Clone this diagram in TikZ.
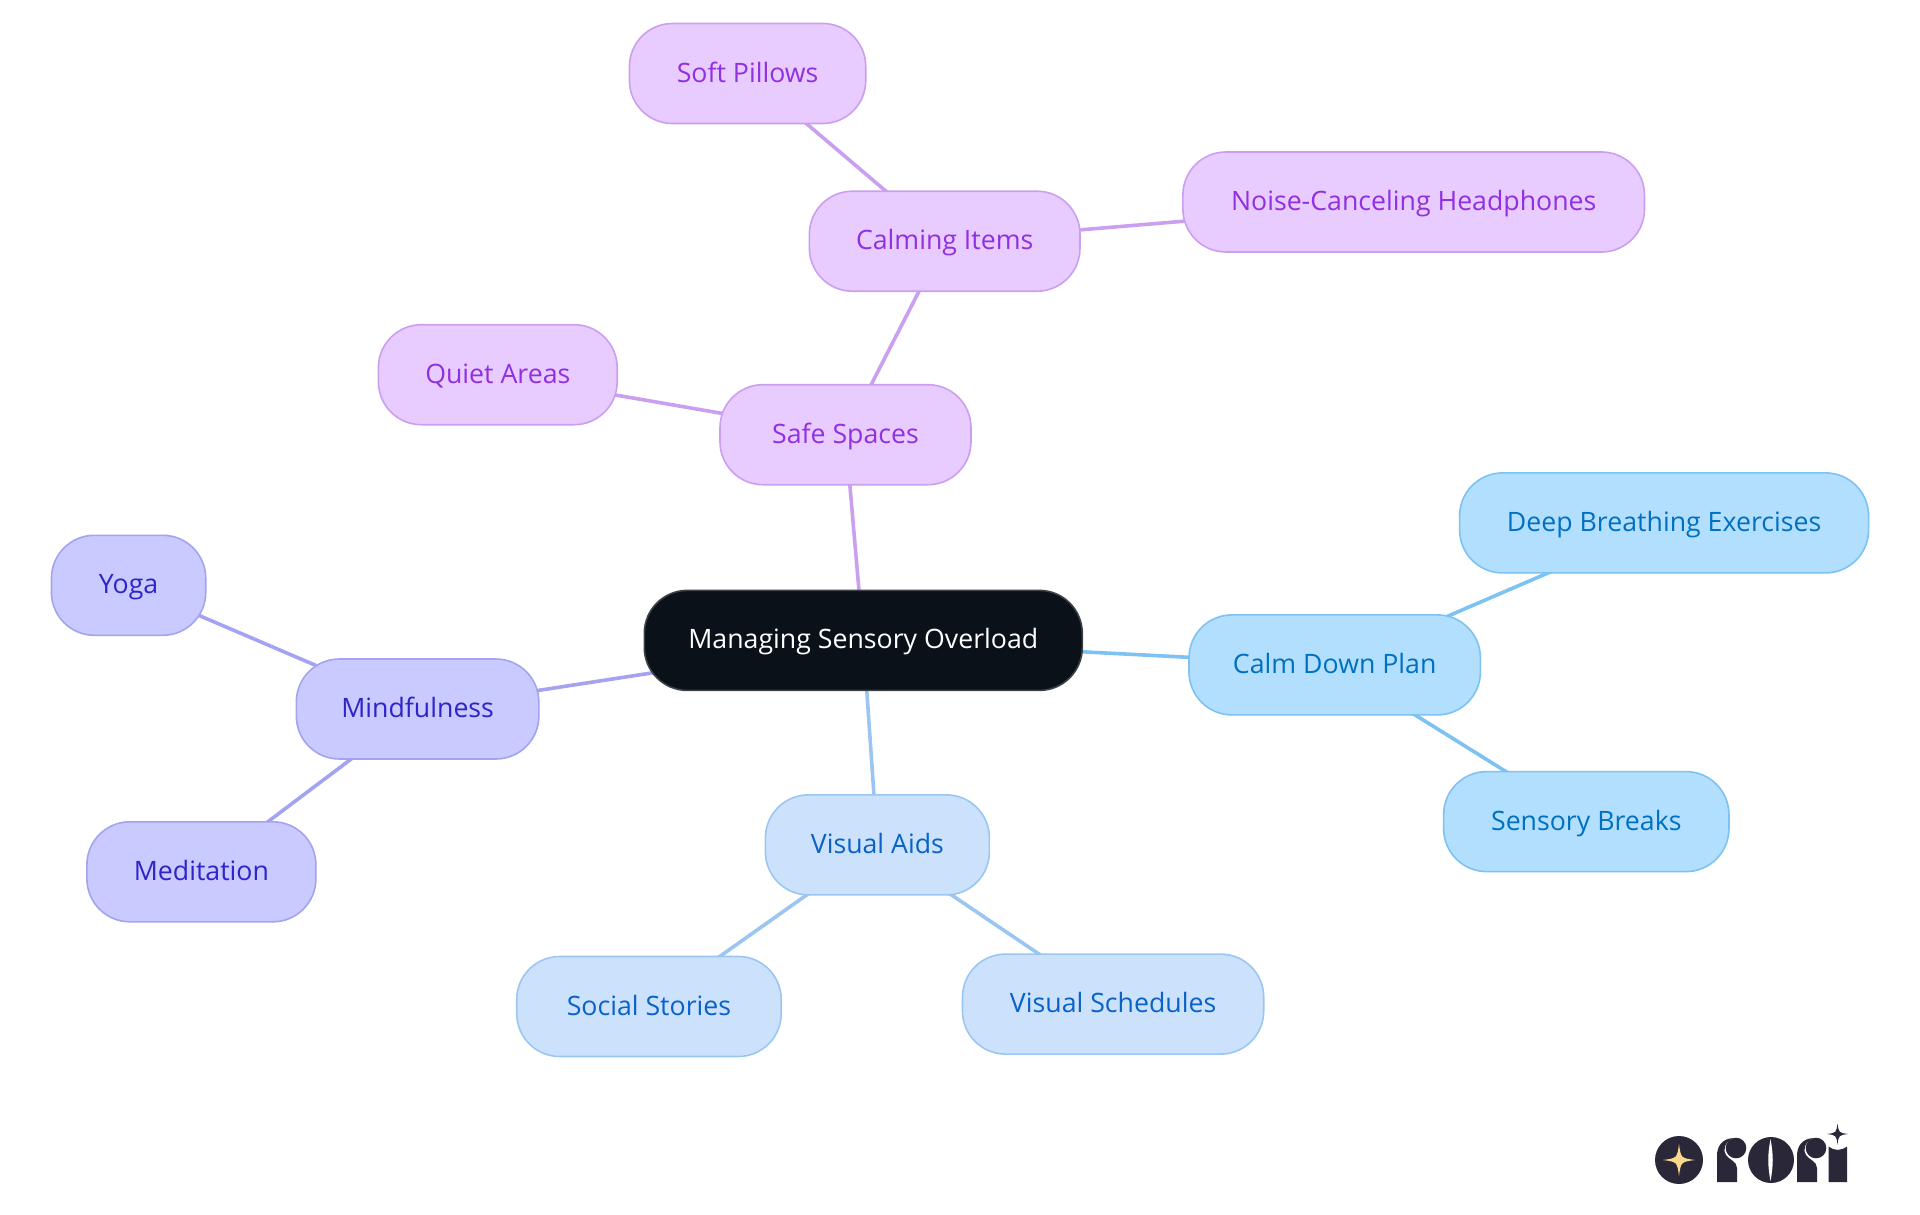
\documentclass[tikz,border=0pt]{standalone}
\usepackage{fontspec}
\setmainfont{Open Sans}
\usetikzlibrary{backgrounds}
\definecolor{rootfill}{HTML}{0B1119}
\definecolor{purplefill}{HTML}{E8CCFF}
\definecolor{purpleline}{HTML}{CB9FF0}
\definecolor{purpletext}{HTML}{9030E0}
\definecolor{bluefill}{HTML}{B3DFFF}
\definecolor{blueline}{HTML}{7CC2F2}
\definecolor{bluetext}{HTML}{0070C0}
\definecolor{palefill}{HTML}{CCE2FC}
\definecolor{paleline}{HTML}{9BC6F2}
\definecolor{paletext}{HTML}{0A62C8}
\definecolor{indigofill}{HTML}{C9CAFF}
\definecolor{indigoline}{HTML}{A3A3F2}
\definecolor{indigotext}{HTML}{2E24C8}
\definecolor{logodark}{HTML}{2A2838}
\definecolor{logostar}{HTML}{FBD98C}
\newcommand{\twinkle}[4]{\fill[#1] (#2,#3-#4) .. controls (#2+0.12*#4,#3-0.12*#4) .. (#2+#4,#3) .. controls (#2+0.12*#4,#3+0.12*#4) .. (#2,#3+#4) .. controls (#2-0.12*#4,#3+0.12*#4) .. (#2-#4,#3) .. controls (#2-0.12*#4,#3-0.12*#4) .. (#2,#3-#4) -- cycle;}
\tikzset{
  topic/.style={draw,line width=1.6pt,rounded corners=43pt,minimum height=100pt,inner sep=0pt,text height=22pt,text depth=5pt,align=center,font=\fontsize{26.7}{32}\selectfont},
  rootnode/.style={topic,fill=rootfill,draw=rootfill!80!white,text=white},
  purplenode/.style={topic,fill=purplefill,draw=purpleline,text=purpletext},
  bluenode/.style={topic,fill=bluefill,draw=blueline,text=bluetext},
  palenode/.style={topic,fill=palefill,draw=paleline,text=paletext},
  indigonode/.style={topic,fill=indigofill,draw=indigoline,text=indigotext},
  link/.style={line width=3.6pt}
}
\begin{document}
\begin{tikzpicture}[x=1pt,y=-1pt]
  \useasboundingbox (0,0) rectangle (1920,1215);
  % root
  \node[rootnode,minimum width=438pt] (root) at (863.3,640.4) {Managing Sensory Overload};
  % safe spaces
  \node[purplenode,minimum width=251pt] (safe) at (845.5,434.7) {Safe Spaces};
  \node[purplenode,minimum width=270.6pt] (calming) at (944.7,241.2) {Calming Items};
  \node[purplenode,minimum width=236.3pt] (pillows) at (747.6,73.5) {Soft Pillows};
  \node[purplenode,minimum width=461.6pt] (headphones) at (1413.7,202) {Noise-Canceling Headphones};
  \node[purplenode,minimum width=238.8pt] (quiet) at (497.8,374.7) {Quiet Areas};
  % calm down plan
  \node[bluenode,minimum width=291.4pt] (plan) at (1334.7,664.9) {Calm Down Plan};
  \node[bluenode,minimum width=409pt] (breathing) at (1664.1,522.9) {Deep Breathing Exercises};
  \node[bluenode,minimum width=285.3pt] (breaks) at (1586.3,821.6) {Sensory Breaks};
  % visual aids
  \node[palenode,minimum width=224pt] (aids) at (877.4,844.9) {Visual Aids};
  \node[palenode,minimum width=264.5pt] (stories) at (649,1006.5) {Social Stories};
  \node[palenode,minimum width=301.2pt] (schedules) at (1113.1,1004.1) {Visual Schedules};
  % mindfulness
  \node[indigonode,minimum width=242.5pt] (mindful) at (417.6,709) {Mindfulness};
  \node[indigonode,minimum width=154.3pt] (yoga) at (128.6,585.3) {Yoga};
  \node[indigonode,minimum width=229pt] (meditation) at (201.4,871.8) {Meditation};
  % links go behind the nodes
  \begin{scope}[on background layer]
    \draw[link,purpleline] (root.center) -- (safe.center);
    \draw[link,purpleline] (safe.center) -- (calming.center);
    \draw[link,purpleline] (safe.center) -- (quiet.center);
    \draw[link,purpleline] (calming.center) -- (pillows.center);
    \draw[link,purpleline] (calming.center) -- (headphones.center);
    \draw[link,blueline] (root.center) -- (plan.center);
    \draw[link,blueline] (plan.center) -- (breathing.center);
    \draw[link,blueline] (plan.center) -- (breaks.center);
    \draw[link,paleline] (root.center) -- (aids.center);
    \draw[link,paleline] (aids.center) -- (stories.center);
    \draw[link,paleline] (aids.center) -- (schedules.center);
    \draw[link,indigoline] (root.center) -- (mindful.center);
    \draw[link,indigoline] (mindful.center) -- (yoga.center);
    \draw[link,indigoline] (mindful.center) -- (meditation.center);
  \end{scope}
  % logo
  \fill[logodark] (1679,1160) circle[radius=24];
  \twinkle{logostar}{1679}{1160}{16}
  % both r
  \foreach \dx in {0,80} {
    \begin{scope}[xshift=\dx pt]
      \fill[logodark] (1717,1182) -- (1717,1156) .. controls (1717,1146) and (1722,1139) .. (1733,1138) .. controls (1726,1141) and (1722,1149) .. (1726,1155) .. controls (1729,1160) and (1737,1161) .. (1737,1168) -- (1737,1182) -- cycle;
      \fill[logodark] (1736,1148) circle[radius=10.3];
    \end{scope}
  }
  % o
  \fill[logodark] (1771,1160) circle[radius=23];
  \fill[white] (1770.5,1139) .. controls (1767.5,1155) and (1767.5,1165) .. (1770.5,1181) .. controls (1773.5,1165) and (1773.5,1155) .. (1770.5,1139) -- cycle;
  % i
  \fill[logodark] (1828.5,1146.5) .. controls (1834,1151) and (1841,1151) .. (1847,1146.5) -- (1847,1182) -- (1828.5,1182) -- cycle;
  \twinkle{logodark}{1837.5}{1134}{10.5}
\end{tikzpicture}
\end{document}
